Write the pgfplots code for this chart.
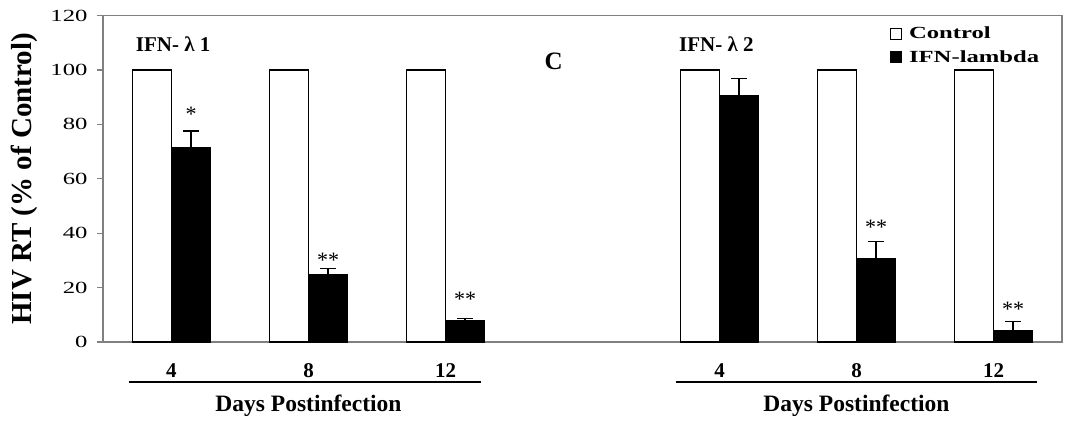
\documentclass[border=0pt]{standalone}
\usepackage{fontspec}
\setmainfont{Liberation Serif}
\newfontfamily\widefont[FakeStretch=1.45]{Liberation Serif}
\usepackage{pgfplots}
\usepackage{pgfplotstable}
\pgfplotsset{compat=1.18}

\pgfplotstableread{
x ctrl ifn err
0 100 71.3 6.3
1 100 24.6 2.5
2 100 7.8 0.9
4 100 90.5 6.4
5 100 30.5 6.4
6 100 4.2 3.3
}\data

\pgfplotsset{sqlegend/.style={legend image code/.code={\draw[##1,line width=1pt] (0pt,-5.5pt) rectangle (11pt,5.5pt); \path[draw=none,fill=none] (0pt,0pt) -- (17pt,0pt);}}}

\begin{document}
\begin{tikzpicture}
\useasboundingbox (-103pt,-80pt) rectangle (964pt,342pt);
\begin{axis}[
 at={(0,0)}, anchor=south west,
 width=959pt, height=326.4pt, scale only axis,
 xmin=-0.5, xmax=6.5, ymin=0, ymax=120,
 ytick={0,20,...,120},
 xtick={0,1,2,4,5,6},
 xticklabels={4,8,12,4,8,12},
 axis line style={draw=black!50, line width=1.2pt},
 tick align=outside,
 ytick pos=left,
 ytick style={draw=black!50, line width=1.2pt},
 major tick length=6pt,
 xtick style={draw=none},
 yticklabel style={font=\widefont\fontsize{17}{17}\selectfont, /pgf/number format/assume math mode=true, xshift=-6pt},
 xticklabel style={font=\bfseries\fontsize{21}{21}\selectfont, anchor=base, yshift=-29pt},
 ylabel={HIV RT (\% of Control)},
 ylabel style={font=\bfseries\fontsize{29}{29}\selectfont, yshift=6pt},
 clip=false,
 legend style={at={(rel axis cs:0.82,0.972)}, anchor=north west, draw=none, fill=none,
   font=\widefont\bfseries\fontsize{17}{17}\selectfont, row sep=6pt, inner sep=0pt,
   cells={anchor=west}},
]
\addplot[ybar, bar width=0.285, bar shift=0, fill=white, draw=black, line width=1.5pt, sqlegend]
  table[x expr=\thisrow{x}-0.1425, y=ctrl]{\data};
\addplot[ybar, bar width=0.285, bar shift=0, fill=black, draw=black, line width=1.5pt, sqlegend,
  error bars/.cd, y dir=plus, y explicit,
  error bar style={line width=1.3pt, black},
  error mark options={rotate=90, mark size=8pt, line width=1.3pt, black}]
  table[x expr=\thisrow{x}+0.1425, y=ifn, y error=err]{\data};
\legend{Control, IFN-lambda}

\node[anchor=west, font=\bfseries\fontsize{21}{21}\selectfont] at (axis cs:-0.285,109.6) {IFN- λ 1};
\node[anchor=west, font=\bfseries\fontsize{21}{21}\selectfont] at (axis cs:3.68,109.6) {IFN- λ 2};
\node[font=\bfseries\fontsize{25}{25}\selectfont] at (axis cs:2.79,103) {C};

\node[anchor=base, yshift=-11.7pt, font=\fontsize{22}{22}\selectfont] at (axis cs:0.1425,85.5) {*};
\node[anchor=base, yshift=-11.7pt, font=\fontsize{22}{22}\selectfont] at (axis cs:1.1425,31.8) {**};
\node[anchor=base, yshift=-11.7pt, font=\fontsize{22}{22}\selectfont] at (axis cs:2.1425,17.2) {**};
\node[anchor=base, yshift=-11.7pt, font=\fontsize{22}{22}\selectfont] at (axis cs:5.1425,43.9) {**};
\node[anchor=base, yshift=-11.7pt, font=\fontsize{22}{22}\selectfont] at (axis cs:6.1425,13.5) {**};

\draw[line width=1.3pt] ([yshift=-40pt]axis cs:-0.31,0) -- ([yshift=-40pt]axis cs:2.26,0);
\draw[line width=1.3pt] ([yshift=-40pt]axis cs:3.68,0) -- ([yshift=-40pt]axis cs:6.32,0);
\node[anchor=base, yshift=-69pt, font=\bfseries\fontsize{23.5}{23.5}\selectfont] at (axis cs:1,0) {Days Postinfection};
\node[anchor=base, yshift=-69pt, font=\bfseries\fontsize{23.5}{23.5}\selectfont] at (axis cs:5,0) {Days Postinfection};
\end{axis}
\end{tikzpicture}
\end{document}
